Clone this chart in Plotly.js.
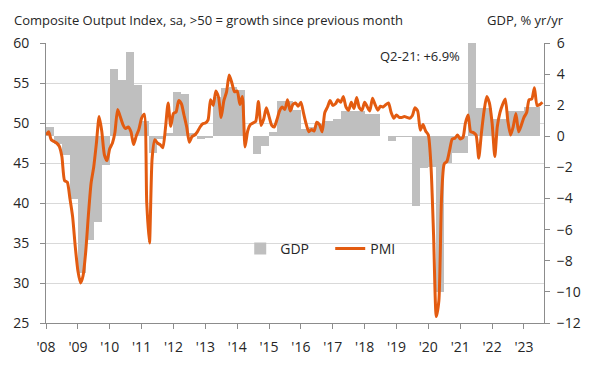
<!DOCTYPE html>
<html><head><meta charset="utf-8">
<script src="https://cdn.plot.ly/plotly-3.0.1.min.js"></script>
<style>html,body{margin:0;padding:0;background:#fff}#chart{width:595px;height:365px}</style>
</head><body><div id="chart"></div>
<script>
// ---- data ----
const pmiStartYear = 2008;
const pmiValues = [
  48.5, 48.9, 47.9, 47.7, 47.5, 47.1, 45.8, 42.8, 42.6, 40.6, 38.3, 34.6,
  31.5, 30.0, 30.9, 34.0, 38.5, 42.5, 44.5, 47.5, 50.8, 49.0, 46.0, 45.3,
  46.8, 47.5, 48.8, 51.7, 50.8, 49.8, 49.3, 49.5, 48.9, 47.3, 48.4, 49.2,
  50.6, 51.1, 40.0, 35.0, 45.5, 47.9, 47.5, 47.3, 46.9, 49.3, 52.5, 49.6,
  51.2, 51.4, 52.8, 52.4, 51.0, 49.5, 47.6, 48.3, 48.5, 48.9, 49.5, 49.9,
  50.0, 50.4, 52.9, 52.2, 54.0, 53.2, 50.7, 52.8, 53.9, 56.0, 55.0, 53.9,
  54.0, 52.3, 53.3, 47.0, 49.0, 49.8, 50.0, 50.2, 52.7, 49.7, 50.5, 51.9,
  50.8, 49.7, 49.5, 50.4, 51.5, 52.0, 51.7, 52.9, 51.5, 52.3, 52.5, 52.1,
  52.6, 51.2, 49.9, 48.9, 49.2, 49.0, 50.1, 49.8, 48.9, 51.3, 52.0, 52.8,
  52.2, 52.4, 52.9, 52.6, 53.3, 52.0, 51.6, 52.6, 51.8, 53.2, 51.9, 51.6,
  52.6, 52.0, 51.5, 53.1, 52.3, 51.6, 52.1, 52.0, 52.3, 52.5, 51.3, 50.6,
  51.0, 50.7, 50.7, 50.8, 50.7, 50.6, 50.9, 51.9, 51.5, 49.1, 49.8, 49.0,
  48.5, 44.5, 36.0, 25.8, 27.8, 40.8, 44.9, 45.2, 46.6, 48.0, 48.1, 48.5,
  48.0, 48.2, 50.0, 51.0, 48.9, 48.8, 48.5, 45.6, 48.8, 51.5, 53.3, 52.5,
  50.0, 45.8, 49.5, 51.3, 52.3, 53.0, 50.2, 48.5, 49.6, 51.2, 48.9, 49.7,
  50.7, 51.3, 52.9, 53.0, 54.4, 52.2, 52.3, 52.6
];
const gdpValues = [
   0.6, -0.5, -1.2, -4.0,
  -8.8, -6.65, -5.5, -1.85,
   4.3,  3.6,  5.4,  3.3,
   1.0, -1.05, -0.2,  0.2,
   2.85, 2.75, 0.2, -0.2,
  -0.1,  2.5,  3.1,  3.2,
   3.0,  0.0, -1.15, -0.65,
   0.3,  2.3,  2.3,  1.7,
   0.5,  0.6,  0.8,  1.0,
   1.1,  1.6,  1.6,  1.6,
   1.45, 1.45, 0.05, -0.3,
  -0.05, -0.05, -4.45, -2.05,
  -2.0, -10.0, -1.7, -1.1,
  -1.1,  6.9,  1.8,  1.8,
   1.1,  1.1,  1.6,  1.6,
   1.9,  1.9
];
const tickYears = [2008,2009,2010,2011,2012,2013,2014,2015,2016,2017,2018,2019,2020,2021,2022,2023];
const tickLabels = ["'08","'09","'10","'11","'12","'13","'14","'15","'16","'17","'18","'19","'20","'21","'22","'23"];

// ---- derived categories ----
function pad(n){return (n<10?'0':'')+n;}
function monthStr(i){const y=pmiStartYear+Math.floor(i/12), m=i%12+1; return y+'-'+pad(m)+'-01';}
const pmiMonths = pmiValues.map((_,i)=>monthStr(i));
const gdpQuarters = gdpValues.map((_,i)=>monthStr(i*3));
const gdpWidths = gdpValues.map((_,i)=>Date.parse(monthStr(i*3+3))-Date.parse(monthStr(i*3)));
const tickDates = tickYears.map(y=>y+'-01-01');

const FONT = 'Open Sans, sans-serif';
const TXT = '#262626';
const AX = '#8c8c8c';

const traces = [
  {type:'bar', name:'GDP', x:gdpQuarters, y:gdpValues, width:gdpWidths, offset:0,
   marker:{color:'#BFBFBF', line:{width:0}}, yaxis:'y', xaxis:'x', hoverinfo:'skip'},
  {type:'scatter', mode:'lines', name:'PMI', x:pmiMonths, y:pmiValues,
   line:{color:'#E35B10', width:3, shape:'spline', smoothing:0.6}, yaxis:'y2', xaxis:'x', hoverinfo:'skip'}
];

const layout = {
  width:595, height:365,
  margin:{l:46, r:51, t:43, b:42},
  paper_bgcolor:'#fff', plot_bgcolor:'rgba(0,0,0,0)',
  font:{family:FONT, color:TXT, size:14},
  bargap:0,
  showlegend:true,
  legend:{orientation:'h', x:0.39, y:0.265, xanchor:'left', yanchor:'middle',
          bgcolor:'rgba(0,0,0,0)', font:{family:FONT, size:14, color:TXT},
          entrywidth:45, entrywidthmode:'pixels', traceorder:'normal'},
  xaxis:{type:'date', range:['2008-01-01','2023-08-19'], tickmode:'array',
         tickvals:tickDates, ticktext:tickLabels, ticks:'outside', ticklen:5,
         tickcolor:AX, showline:true, linecolor:AX, linewidth:1, showgrid:false,
         zeroline:false, tickfont:{size:14, color:TXT}, ticklabelstandoff:6},
  yaxis:{side:'right', range:[-12,6], tickmode:'linear', tick0:-12, dtick:2,
         ticks:'outside', ticklen:5, tickcolor:AX, showline:true, linecolor:AX,
         showgrid:false, zeroline:false, tickfont:{size:14, color:TXT}, ticklabelstandoff:4},
  yaxis2:{overlaying:'y', side:'left', range:[25,60], tickmode:'linear', tick0:25, dtick:5,
         ticks:'outside', ticklen:5, tickcolor:AX, showline:true, linecolor:AX,
         showgrid:true, gridcolor:'#D9D9D9', gridwidth:1, zeroline:false,
         tickfont:{size:14, color:TXT}, ticklabelstandoff:8},
  annotations:[
    {xref:'paper', yref:'paper', x:-0.0677, y:1.083, xanchor:'left', yanchor:'middle',
     text:'Composite Output Index, sa, >50 = growth since previous month', showarrow:false,
     font:{family:FONT, size:13, color:TXT}},
    {xref:'paper', yref:'paper', x:0.882, y:1.083, xanchor:'left', yanchor:'middle',
     text:'GDP, % yr/yr', showarrow:false, font:{family:FONT, size:13, color:TXT}},
    {xref:'paper', yref:'paper', x:0.836, y:0.9546, xanchor:'right', yanchor:'middle',
     text:'Q2-21: +6.9%', showarrow:false, font:{family:FONT, size:13, color:TXT}}
  ]
};

Plotly.newPlot('chart', traces, layout, {staticPlot:true, displayModeBar:false});
</script>
</body></html>
